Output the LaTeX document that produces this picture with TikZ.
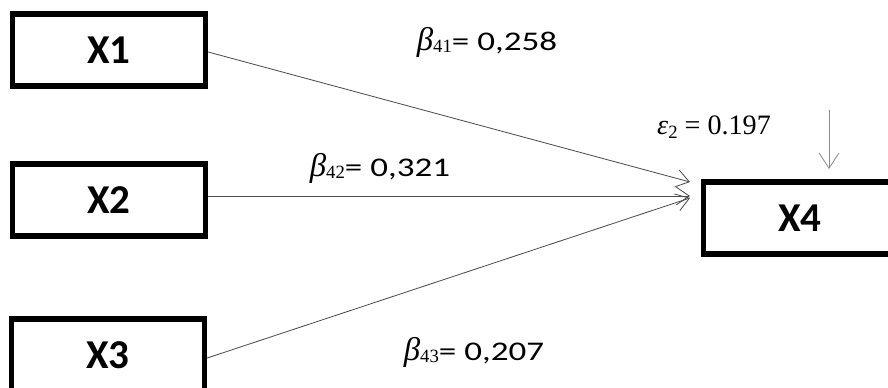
\documentclass[tikz,border=0pt]{standalone}
\usepackage{fontspec}
\setmainfont{Carlito}
\newfontfamily\coeffont[FakeStretch=1.3]{Carlito}
\newfontfamily\errfont{Liberation Serif}
\newcommand{\bcoef}[1]{{\errfont\itshape\fontsize{28}{28}\selectfont β}\raisebox{-0.2ex}{\errfont\fontsize{16}{16}\selectfont #1}}
\usetikzlibrary{arrows.meta}

\begin{document}
\begin{tikzpicture}[x=0.03cm, y=-0.03cm,
	varbox/.style={draw, line width=4.3pt, minimum width=5.8cm, minimum height=2.16cm,
		inner sep=0pt, font=\fontsize{35}{40}\selectfont\bfseries},
	link/.style={draw=black!70, line width=0.7pt, -{Straight Barb[length=11pt, width=15pt]}},
	coef/.style={font=\coeffont\fontsize{23}{26}\selectfont, inner sep=0pt}]
	\useasboundingbox (0,0) rectangle (888,387);
	% Variables
	\node[varbox] (X1) at (109,50) {X1};
	\node[varbox] (X2) at (109,200) {X2};
	\node[varbox] (X3) at (108,355) {X3};
	\node[varbox] (X4) at (800,218) {X4};
	% Arrow heads meet left of X4
	\coordinate (in1) at (690,182);
	\coordinate (in2) at (690,196);
	\coordinate (in3) at (690,198);
	% Paths to X4
	\draw[link] ([yshift=-0.06cm]X1.east) -- (in1);
	\draw[link] ([yshift=0.12cm]X2.east) -- (in2);
	\draw[link] ([yshift=-0.09cm]X3.east) -- (in3);
	% Error term
	\coordinate (e2top) at (829,110);
	\coordinate (e2tip) at (829,169);
	\draw[link, draw=black!45, -{Straight Barb[length=13pt, width=17pt]}] (e2top) -- (e2tip);
	% Coefficients
	\node[coef] (b41) at (487,42) {\bcoef{41}= 0,258};
	\node[coef] (b42) at (380,168) {\bcoef{42}= 0,321};
	\node[coef] (b43) at (474,352) {\bcoef{43}= 0,207};
	\node[font=\errfont\fontsize{24}{28}\selectfont, inner sep=0pt] (e2) at (714,127)
		{\textit{ε}\raisebox{-0.3ex}{\fontsize{16}{16}\selectfont 2} = 0.197};
\end{tikzpicture}
\end{document}
